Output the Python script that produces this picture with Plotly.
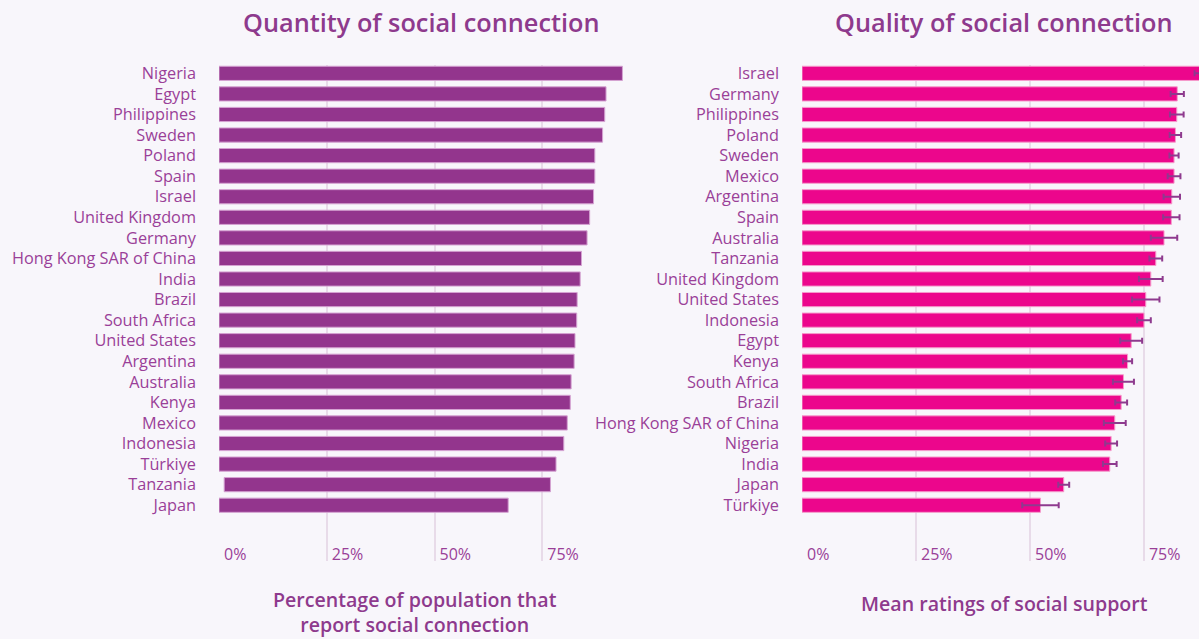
import plotly.graph_objects as go

# quantity panel (share of population reporting social connection, %)
quantity_countries = ["Nigeria", "Egypt", "Philippines", "Sweden", "Poland", "Spain", "Israel",
                      "United Kingdom", "Germany", "Hong Kong SAR of China", "India", "Brazil",
                      "South Africa", "United States", "Argentina", "Australia", "Kenya",
                      "Mexico", "Indonesia", "Türkiye", "Tanzania", "Japan"]
quantity_values = [93.6, 89.8, 89.5, 89.0, 87.2, 87.2, 86.9, 86.0, 85.4, 84.1, 83.8, 83.1,
                   83.0, 82.6, 82.4, 81.7, 81.5, 80.8, 80.0, 78.2, 76.9, 67.1]
quantity_base = [0, 0, 0, 0, 0, 0, 0, 0, 0, 0, 0, 0, 0, 0, 0, 0, 0, 0, 0, 0, 1.2, 0]

# quality panel (mean ratings of social support, %)
quality_countries = ["Israel", "Germany", "Philippines", "Poland", "Sweden", "Mexico",
                     "Argentina", "Spain", "Australia", "Tanzania", "United Kingdom",
                     "United States", "Indonesia", "Egypt", "Kenya", "South Africa", "Brazil",
                     "Hong Kong SAR of China", "Nigeria", "India", "Japan", "Türkiye"]
quality_values = [87.6, 82.3, 82.2, 81.9, 81.6, 81.6, 81.1, 81.0, 79.4, 77.6, 76.5, 75.4,
                  75.0, 72.2, 71.4, 70.5, 70.0, 68.6, 67.8, 67.5, 57.4, 52.3]
quality_errors = [1.5, 1.45, 1.5, 1.25, 1.0, 1.4, 1.8, 1.8, 2.9, 1.4, 2.6, 3.0,
                  1.5, 2.4, 1.0, 2.3, 1.3, 2.4, 1.3, 1.5, 1.2, 4.0]

tick_vals = [0, 25, 50, 75]
tick_text = ["0%", "25%", "50%", "75%"]

W, H = 1199, 639
BG = "#f8f6fb"
PURPLE = "#93358d"
PINK = "#ec068c"
TEXT = "#9a3f98"
TITLE = "#8e3a8d"
GRID = "#e8dbe9"
FONT = "Open Sans"

def px_x(p):
    return p / W

def px_y(p):
    return 1 - p / H

fig = go.Figure()

fig.add_trace(go.Bar(
    y=quantity_countries,
    x=[v - b for v, b in zip(quantity_values, quantity_base)],
    base=quantity_base,
    orientation="h",
    marker=dict(color=PURPLE, line=dict(color="#d5a3d2", width=1)),
    xaxis="x", yaxis="y",
    showlegend=False,
))

fig.add_trace(go.Bar(
    y=quality_countries,
    x=quality_values,
    orientation="h",
    marker=dict(color=PINK, line=dict(color="#f59ccb", width=1)),
    error_x=dict(type="data", array=quality_errors, visible=True,
                 color="#8e3a8e", thickness=2, width=3),
    xaxis="x2", yaxis="y2",
    showlegend=False,
))

y_range = [23.73, -0.42]
x_common = dict(
    tickvals=tick_vals, ticktext=tick_text,
    showgrid=True, gridcolor=GRID, gridwidth=2,
    zeroline=False, showline=False,
    ticks="", ticklabelposition="inside right",
    ticklabelstandoff=-8, ticklabelshift=5,
    tickfont=dict(family=FONT, size=16, color=TEXT),
    fixedrange=True,
)
y_common = dict(
    type="category", range=y_range,
    showgrid=False, zeroline=False, showline=False, ticks="",
    ticklabelstandoff=22,
    tickfont=dict(family=FONT, size=16.3, color=TEXT),
    domain=[px_y(561), px_y(62)],
)

fig.update_layout(
    width=W, height=H,
    margin=dict(l=0, r=0, t=0, b=0),
    paper_bgcolor=BG, plot_bgcolor=BG,
    bargap=0.31,
    xaxis=dict(domain=[px_x(219), px_x(650)], range=[0, 100], anchor="y", **x_common),
    yaxis=dict(anchor="x", categoryarray=quantity_countries, **y_common),
    xaxis2=dict(domain=[px_x(802), 1.0], range=[0, 87.07], anchor="y2", **x_common),
    yaxis2=dict(anchor="x2", categoryarray=quality_countries, **y_common),
)

title_font = dict(family=FONT, size=25.3, color=TITLE, weight=600)
sub_font = dict(family=FONT, size=19.6, color=TITLE, weight=600)
annotations = [
    ("Quantity of social connection", 421, 19, title_font),
    ("Quality of social connection", 1004, 19, title_font),
    ("Percentage of population that<br>report social connection", 415, 612, sub_font),
    ("Mean ratings of social support", 1004, 603, sub_font),
]
for text, x, y, font in annotations:
    fig.add_annotation(text=text, x=px_x(x), y=px_y(y), xref="paper", yref="paper",
                       showarrow=False, xanchor="center", yanchor="middle", font=font)

fig.write_html("out.html", config={"displayModeBar": False},
               post_script="document.body.style.margin='0';")
